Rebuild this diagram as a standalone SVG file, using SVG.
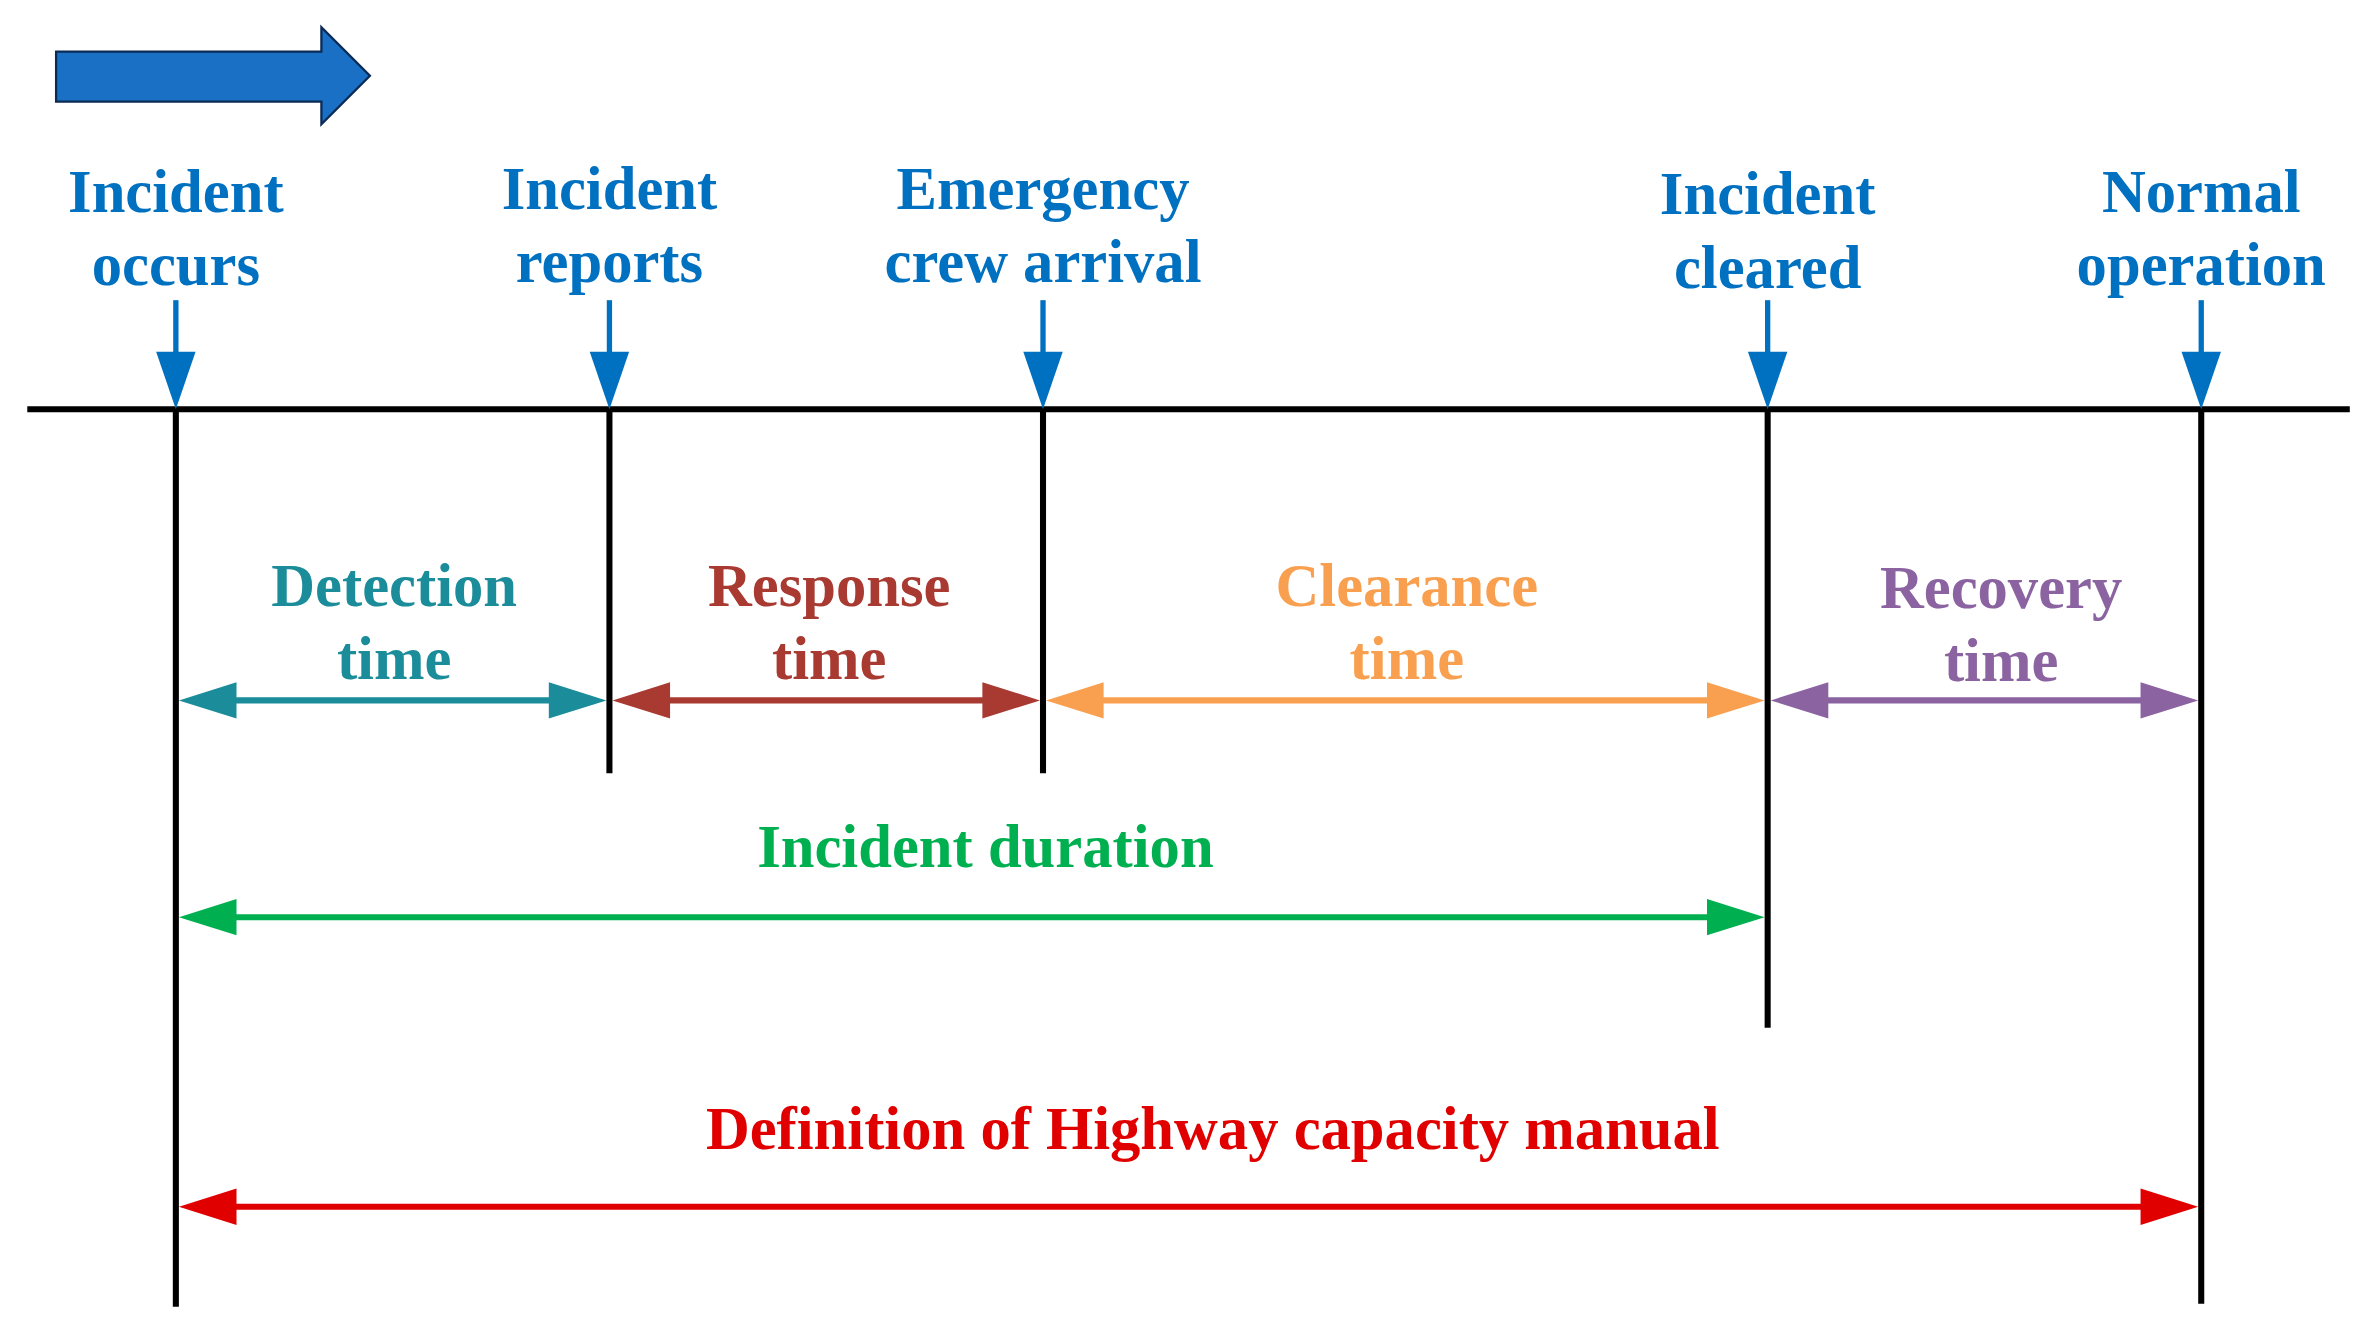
<svg xmlns="http://www.w3.org/2000/svg" width="2365" height="1332" viewBox="0 0 2365 1332">
<style>
.ev{font-family:"Liberation Serif",serif;font-weight:bold;font-size:40px;fill:#0070c0;text-anchor:middle}
.pt{font-family:"Liberation Serif",serif;font-weight:bold;font-size:40px;text-anchor:middle}
.k{stroke:#000;stroke-width:4;fill:none}
</style>
<rect width="2365" height="1332" fill="#fff"/>
<g transform="scale(1.516)">
<g id="direction"><polygon points="37,34 212,34 212,18 244,50 212,82 212,67 37,67" fill="#1a70c4" stroke="#0b2a55" stroke-width="1.5"/></g>
<g id="timeline"><line class="k" x1="18" y1="270" x2="1550" y2="270"/></g>
<g id="ev1"><text class="ev" x="116" y="140">Incident</text><text class="ev" x="116" y="188">occurs</text>
<line x1="116" y1="198" x2="116" y2="235" stroke="#0070c0" stroke-width="3.5"/><polygon points="103,232 129,232 116,270" fill="#0070c0"/><line class="k" x1="116" y1="270" x2="116" y2="862"/></g>
<g id="ev2"><text class="ev" x="402" y="138">Incident</text><text class="ev" x="402" y="186">reports</text>
<line x1="402" y1="198" x2="402" y2="235" stroke="#0070c0" stroke-width="3.5"/><polygon points="389,232 415,232 402,270" fill="#0070c0"/><line class="k" x1="402" y1="270" x2="402" y2="510"/></g>
<g id="ev3"><text class="ev" x="688" y="138">Emergency</text><text class="ev" x="688" y="186">crew arrival</text>
<line x1="688" y1="198" x2="688" y2="235" stroke="#0070c0" stroke-width="3.5"/><polygon points="675,232 701,232 688,270" fill="#0070c0"/><line class="k" x1="688" y1="270" x2="688" y2="510"/></g>
<g id="ev4"><text class="ev" x="1166" y="141">Incident</text><text class="ev" x="1166" y="190">cleared</text>
<line x1="1166" y1="198" x2="1166" y2="235" stroke="#0070c0" stroke-width="3.5"/><polygon points="1153,232 1179,232 1166,270" fill="#0070c0"/><line class="k" x1="1166" y1="270" x2="1166" y2="678"/></g>
<g id="ev5"><text class="ev" x="1452" y="140">Normal</text><text class="ev" x="1452" y="188">operation</text>
<line x1="1452" y1="198" x2="1452" y2="235" stroke="#0070c0" stroke-width="3.5"/><polygon points="1439,232 1465,232 1452,270" fill="#0070c0"/><line class="k" x1="1452" y1="270" x2="1452" y2="860"/></g>
<g id="detection"><text class="pt" x="260" y="400" fill="#1a8c9a">Detection</text><text class="pt" x="260" y="448" fill="#1a8c9a">time</text></g>
<g id="response"><text class="pt" x="547" y="400" fill="#a83a32">Response</text><text class="pt" x="547" y="448" fill="#a83a32">time</text></g>
<g id="clearance"><text class="pt" x="928" y="400" fill="#f9a050">Clearance</text><text class="pt" x="928" y="448" fill="#f9a050">time</text></g>
<g id="recovery"><text class="pt" x="1320" y="401" fill="#8a63a0">Recovery</text><text class="pt" x="1320" y="449" fill="#8a63a0">time</text></g>
<g id="duration"><text class="pt" x="650" y="572" fill="#00b050">Incident duration</text></g>
<g id="hcm"><text class="pt" x="800" y="758" fill="#e00000">Definition of Highway capacity manual</text></g>
<g id="connectors">
<g fill="#1a8c9a"><line x1="150" y1="462" x2="368" y2="462" stroke="#1a8c9a" stroke-width="4"/><polygon points="118,462 156,450 156,474"/><polygon points="400,462 362,450 362,474"/></g>
<g fill="#a83a32"><line x1="436" y1="462" x2="654" y2="462" stroke="#a83a32" stroke-width="4"/><polygon points="404,462 442,450 442,474"/><polygon points="686,462 648,450 648,474"/></g>
<g fill="#f9a050"><line x1="722" y1="462" x2="1132" y2="462" stroke="#f9a050" stroke-width="4"/><polygon points="690,462 728,450 728,474"/><polygon points="1164,462 1126,450 1126,474"/></g>
<g fill="#8a63a0"><line x1="1200" y1="462" x2="1418" y2="462" stroke="#8a63a0" stroke-width="4"/><polygon points="1168,462 1206,450 1206,474"/><polygon points="1450,462 1412,450 1412,474"/></g>
<g fill="#00b050"><line x1="150" y1="605" x2="1132" y2="605" stroke="#00b050" stroke-width="4"/><polygon points="118,605 156,593 156,617"/><polygon points="1164,605 1126,593 1126,617"/></g>
<g fill="#e00000"><line x1="150" y1="796" x2="1418" y2="796" stroke="#e00000" stroke-width="4"/><polygon points="118,796 156,784 156,808"/><polygon points="1450,796 1412,784 1412,808"/></g>
</g>
</g>
</svg>
